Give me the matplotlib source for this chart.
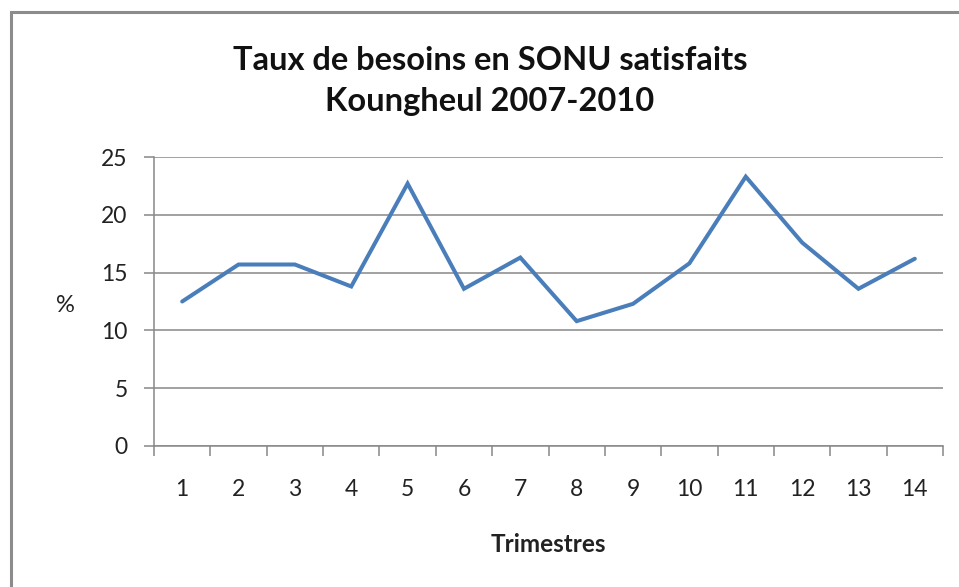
import matplotlib.pyplot as plt
from matplotlib.patches import Rectangle

trimestres = list(range(1, 15))
taux = [12.5, 15.7, 15.7, 13.8, 22.7, 13.6, 16.3, 10.8, 12.3, 15.8, 23.3, 17.6, 13.6, 16.2]
y_ticks = [0, 5, 10, 15, 20, 25]

plt.rcParams['font.family'] = ['Lato', 'DejaVu Sans']

fig = plt.figure(figsize=(9.59, 5.87), dpi=100)
fig.patches.append(Rectangle((11 / 959, -0.1), 1.2, (587 - 12) / 587 + 0.1,
                             transform=fig.transFigure, fill=False,
                             edgecolor='#8c8c8c', linewidth=2.2))

ax = fig.add_axes([154 / 959, 141 / 587, (943 - 154) / 959, (446 - 157) / 587])
ax.plot(trimestres, taux, color='#4a7ebb', linewidth=2.9, solid_joinstyle='miter',
        solid_capstyle='round')

ax.set_xlim(0.5, 14.5)
ax.set_ylim(0, 25)
ax.set_yticks(y_ticks)
ax.grid(axis='y', color='#888888', linewidth=1.1)
ax.set_axisbelow(True)

# category boundaries as ticks, labels in the middle
ax.set_xticks([i + 0.5 for i in range(0, 15)])
ax.set_xticklabels([])
ax.set_xticks(trimestres, minor=True)
ax.set_xticklabels([str(t) for t in trimestres], minor=True)
ax.tick_params(axis='x', which='major', length=7, width=1.1, color='#888888', direction='out')
ax.tick_params(axis='x', which='minor', length=0, pad=24, labelsize=16.5, labelcolor='#222222')
ax.tick_params(axis='y', length=7, width=1.1, color='#888888', pad=12, labelsize=16.5,
               labelcolor='#222222')

for side in ['top', 'right']:
    ax.spines[side].set_visible(False)
for side in ['left', 'bottom']:
    ax.spines[side].set_color('#888888')
    ax.spines[side].set_linewidth(1.1)

fig.text(490 / 959, 1 - 60 / 587, 'Taux de besoins en SONU satisfaits', ha='center',
         va='center', fontsize=23.5, fontweight='bold', color='#111111')
fig.text(490 / 959, 1 - 102 / 587, 'Koungheul 2007-2010', ha='center',
         va='center', fontsize=23.5, fontweight='bold', color='#111111')
fig.text(65 / 959, 1 - 306 / 587, '%', ha='center', va='center', fontsize=17, color='#222222')
fig.text(548 / 959, 1 - 544 / 587, 'Trimestres', ha='center', va='center', fontsize=17.5,
         fontweight='bold', color='#222222')

fig.savefig('out.png', dpi=100)
